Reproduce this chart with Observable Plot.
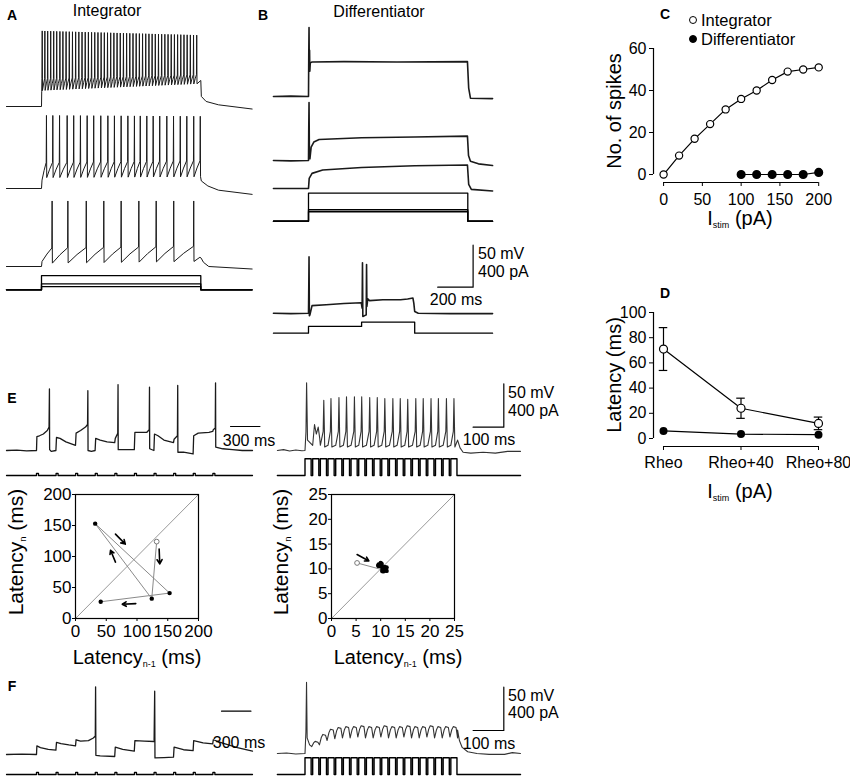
<!DOCTYPE html>
<html><head><meta charset="utf-8">
<script src="https://cdn.jsdelivr.net/npm/d3@7"></script>
<script src="https://cdn.jsdelivr.net/npm/@observablehq/plot@0.6"></script>
<style>
body{margin:0;background:#fff;}
#fig{position:relative;width:850px;height:778px;overflow:hidden;background:#fff;font-family:'Liberation Sans',Arial,Helvetica,sans-serif;color:#000;}
.lab{position:absolute;white-space:nowrap;line-height:1;}
.sub{font-size:0.45em;vertical-align:-0.35em;}
.dotlg{position:absolute;width:6px;height:6px;border:1.3px solid #000;border-radius:50%;transform:translate(-50%,-50%);}
</style></head><body><div id="fig"></div><script>
const fig = document.getElementById('fig');
const FONT = "'Liberation Sans', Arial, Helvetica, sans-serif";

// ================= DATA =================
// Panel A (integrator): spike times, ms from step onset, for three step amplitudes
const aSpikesHigh = [4,19,35,52,69,86,104,121,139,157,175,193,211,229,247,265,283,301,319,337,355,373,391,409,427,445,463,481,499,517,535,553,571,589,607,625,643,661,679,697,715,733,751,769,787,805,823,841,859,877];
const aSpikesMid = [28,64,102,145,182,220,258,295,335,375,412,450,488,525,558,595,631,668,708,746,784,821,860,897];
const aSpikesLow = [60,149,253,352,450,550,648,747,860];
const aStimAmps = [135, 57, 31];          // pA
const aStimDur = 900;                     // ms
const aAfterHigh = [[900,31],[903,12],[930,6],[1000,2],[1190,-3]];
const aAfterMid = [[903,9],[940,3],[1000,-2],[1190,-7]];
const aAfterLow = [[895,11],[902,10],[915,5],[945,0],[1190,-3]];

// Panel B (differentiator): membrane potential keyframes [ms, mV]
const bTraceHigh = [[-198,0],[-100,0.5],[0,0],[1.5,50],[3,82],[4.5,35],[6,55],[7.5,30],[10,40],[20,41],[200,41.5],[500,41],[898,41.5],[905,10],[915,-2],[1040,-2.5]];
const bTraceMid = [[-198,0],[-100,-0.5],[0,0],[1.5,40],[3,69],[5,10],[8,2],[15,16],[30,22],[60,25],[300,27],[600,28],[898,29],[904,6],[915,-1],[960,-4],[1040,-6]];
const bTraceLow = [[-198,0],[0,0],[4,12],[20,18],[80,22],[300,25],[600,27],[898,28],[905,5],[920,-1],[1040,-3]];
const bTraceStep = [[-198,0],[-100,-0.5],[0,0],[1.5,30],[3,67],[5,-3],[8,-2],[20,9],[100,10],[200,11.5],[298,12.5],[303,6],[305,60],[307,-4],[326,-2],[328,58],[330,8],[335,17],[345,15],[420,16],[520,16],[560,17],[590,18],[595,12],[600,2],[620,0],[800,-0.5],[1040,-0.5]];
const bStimAmps = [267, 109, 90];        // pA
const bStepTimes = [0, 300, 600];         // ms
const bStepAmps = [65, 105, 0];           // pA

// Panel C: number of spikes vs stimulus current
const cStim = [0,20,40,60,80,100,120,140,160,180,200];
const cIntegrator = [0,9,17,24,31,36,40,45,49,50,51];
const cDiffStim = [100,120,140,160,180,200];
const cDifferentiator = [0,0,0,0,0,1];

// Panel D: latency (mean ± SEM)
const dLevels = ["Rheo","Rheo+40","Rheo+80"];
const dIntMean = [71, 24, 12];
const dIntErr = [17, 8, 5];
const dDiffMean = [6, 3.5, 3];

// Panel E
const eLeftPulses = [0,200,400,600,800,1000,1200,1400,1600,1800];   // ms
const eLeftLatency = [132,124,32,153,41,27];                          // ms
const eLeftTrace = [[-306,0],[-200,0.5],[-100,-0.5],[0,0],
 [4,16],[30,17],[70,19],[110,23],[128,27],[132,71],[134,1],[150,-1],[198,0],
 [204,15],[240,14],[300,10],[398,6],
 [404,20],[450,23],[500,27],[521,30],[524,69],[526,0],[560,-1],[598,0],
 [604,14],[650,12],[720,10],[798,9],
 [804,14],[829,20],[832,76],[834,1],[900,1],[998,1],
 [1004,21],[1060,21],[1126,21],[1150,24],[1153,73],[1155,2],[1198,0],
 [1204,19],[1240,17],[1300,12],[1398,9],
 [1404,13],[1438,17],[1441,75],[1443,-2],[1500,-2],[1598,-4],
 [1604,17],[1650,20],[1760,21],[1798,22],
 [1804,24],[1824,26],[1827,78],[1829,4],[1900,2],[2000,1],[2100,0],[2204,0]];
const eLeftArrows = [[65,136,81,120],[65,91,57,110],[136,112,137,88],[98,24,76,23]];
const trainPulses = [0,25,50,75,100,125,150,175,200,225,250,275,300,325,350,375,400,425,450,475];
const eRightLatency = [5.2,null,11.2,9.6,10.6,10.2,11.0,9.7,10.8,10.4,10.0,11.2,10.3,9.6,10.9,10.1,10.5,9.5,10.7,10.2];
const eRightPeaks = [78,null,58,60,61,62,62,62,61,61,60,60,60,59,60,60,60,60,60,60];
const eRightPre = [[-90,0],[-70,1],[-50,-0.5],[-30,0.5],[-10,-0.3],[0,0]];
const eRightAfter = [[497,12],[505,3],[515,-2],[540,-3],[580,-2],[620,-3],[660,-1],[702,-1]];
const eRightArrows = [[5.2,12.9,7.6,11.6]];

// Panel F
const fLeftTrace = [[-306,0],[-150,0.5],[0,0],
 [4,10],[40,8],[120,6],[198,5],
 [204,14],[250,12.5],[330,11],[398,10],
 [404,17],[450,15.5],[530,16],[580,19],[598,21],
 [600,22],[603,78],[606,-1],[650,-1.5],[798,-2.3],
 [804,8.5],[880,6],[998,4],
 [1004,16],[1100,15.5],[1198,15],
 [1200,16],[1206,73],[1209,-4],[1300,-3.5],[1398,-3],
 [1404,8.5],[1500,5.5],[1598,4.5],
 [1604,16],[1700,13.5],[1798,12.3],
 [1804,17],[1900,13],[2050,8],[2204,4]];
const fRightTops = [82,14,22,28,30,31,31,32,31,31,32,31,31,32,31,31,32,31,31,31];
const fRightTroughs = [8,10,15,17,18,18,19,18,18,19,18,18,19,18,18,19,18,18,19,18];
const fRightPre = [[-90,0],[-60,0.5],[-30,-0.5],[0,0]];
const fRightAfter = [[497,27],[503,15],[512,7],[530,2],[560,0],[600,-1],[650,-1],[675,1],[702,0]];

// ================= HELPERS =================
function put(svg, left, top) {
  svg.style.position = 'absolute';
  svg.style.left = left + 'px';
  svg.style.top = top + 'px';
  svg.style.overflow = 'visible';
  svg.style.maxWidth = 'none';
  fig.append(svg);
}
function label(html, x, y, {size = 16, anchor = 'middle', bold = false, rotate = 0} = {}) {
  const d = document.createElement('div');
  d.className = 'lab';
  d.innerHTML = html;
  d.style.left = x + 'px';
  d.style.top = y + 'px';
  d.style.fontSize = size + 'px';
  if (bold) d.style.fontWeight = 'bold';
  const tx = anchor === 'middle' ? '-50%' : anchor === 'end' ? '-100%' : '0';
  d.style.transform = `translate(${tx},-50%)` + (rotate ? ` rotate(${rotate}deg)` : '');
  fig.append(d);
}
// a panel in data units (ms, mV or pA) with origin (ox, oy) in page px
function tracePanel({left, right, top, bottom, ox, oy, kx, ky, marks}) {
  const w = right - left, h = bottom - top;
  const svg = Plot.plot({
    width: w, height: h, margin: 0,
    x: {domain: [(left - ox) / kx, (right - ox) / kx], axis: null},
    y: {domain: [(oy - bottom) / ky, (oy - top) / ky], axis: null},
    style: {overflow: 'visible', background: 'transparent'},
    marks
  });
  put(svg, left, top);
}
const lineXY = (pts, o = {}) => Plot.line(pts, {x: d => d[0], y: d => d[1], stroke: '#1a1a1a', strokeWidth: 1.1, ...o});

function spikeTrain(spikes, {onset, start, peak, thr, trough, rise, after}) {
  const pts = [[start, 0], [onset, 0]];
  let lastT = onset, lastV = 0;
  if (rise != null) { pts.push([onset + 3, rise]); lastT = onset + 3; lastV = rise; }
  const n = spikes.length;
  spikes.forEach((ts, i) => {
    const f = n > 1 ? i / (n - 1) : 0;
    const pk = peak[0] + (peak[1] - peak[0]) * f;
    const th = thr[0] + (thr[1] - thr[0]) * f;
    const tr = trough[0] + (trough[1] - trough[0]) * f;
    const mid = lastT + 0.5 * (ts - 1.5 - lastT);
    if (mid > lastT + 0.5) pts.push([mid, lastV + 0.55 * (th - lastV)]);
    pts.push([ts - 1.5, th], [ts, pk], [ts + 1.5, tr]);
    lastT = ts + 1.5; lastV = tr;
  });
  after.forEach(p => pts.push(p));
  return pts;
}
function stepStim(amp, on, off, start, end) {
  return [[start, 0], [on, 0], [on, amp], [off, amp], [off, 0], [end, 0]].map(p => [...p, amp]);
}
function pulseStim(pulses, width, amp, start, end) {
  const pts = [[start, 0]];
  for (const p of pulses) pts.push([p, 0], [p, amp], [p + width, amp], [p + width, 0]);
  pts.push([end, 0]);
  return pts;
}
function scaleBar(t, v, dt, dv) { return lineXY([[t - dt, v], [t, v], [t, v + dv]], {stroke: '#000', strokeWidth: 1.2}); }

// ================= PANEL A =================
const AX = {left: 6, right: 252, ox: 41, kx: 0.177};
const traceA = [
  [spikeTrain(aSpikesHigh, {onset: 0, start: -198, peak: [90, 85], thr: [33, 38], trough: [19, 27], rise: null, after: aAfterHigh}), 106],
  [spikeTrain(aSpikesMid, {onset: 0, start: -198, peak: [87, 86], thr: [31, 33], trough: [13, 14], rise: 10, after: aAfterMid}), 188],
  [spikeTrain(aSpikesLow, {onset: 0, start: -198, peak: [78, 78], thr: [22, 24], trough: [4, 6], rise: 6, after: aAfterLow}), 266]
];
for (const [pts, oy] of traceA) {
  tracePanel({...AX, top: oy - 90, bottom: oy + 10, oy, ky: 0.84, marks: [lineXY(pts, {strokeWidth: 1})]});
}
tracePanel({...AX, top: 260, bottom: 295, oy: 289.3, ky: 0.105, marks: [
  Plot.line(aStimAmps.flatMap(a => stepStim(a, 0, aStimDur, -198, 1190)), {x: d => d[0], y: d => d[1], z: d => d[2], stroke: '#000', strokeWidth: 1.3})
]});

// ================= PANEL B =================
const BX = {left: 273, right: 492, ox: 308, kx: 0.177};
tracePanel({...BX, top: 20, bottom: 105, oy: 96, ky: 0.84, marks: [lineXY(bTraceHigh, {strokeWidth: 1.6})]});
tracePanel({...BX, top: 100, bottom: 170, oy: 160, ky: 0.84, marks: [lineXY(bTraceMid, {strokeWidth: 1.6})]});
tracePanel({...BX, top: 160, bottom: 192, oy: 188, ky: 0.84, marks: [lineXY(bTraceLow, {strokeWidth: 1.6})]});
tracePanel({...BX, top: 190, bottom: 225, oy: 220.7, ky: 0.105, marks: [
  Plot.line(bStimAmps.flatMap(a => stepStim(a, 0, 900, -198, 1040)), {x: d => d[0], y: d => d[1], z: d => d[2], stroke: '#000', strokeWidth: 1.3})
]});
tracePanel({...BX, top: 240, bottom: 320, oy: 312.7, ky: 0.84, marks: [
  lineXY(bTraceStep, {strokeWidth: 1.6}),
  scaleBar(930, 31, 200, 50)
]});
{
  const pts = [[-198, 0]]; let prev = 0;
  bStepTimes.forEach((t, i) => { pts.push([t, prev], [t, bStepAmps[i]]); prev = bStepAmps[i]; });
  pts.push([1040, prev]);
  tracePanel({...BX, top: 315, bottom: 336, oy: 332.7, ky: 0.105, marks: [lineXY(pts, {stroke: '#000', strokeWidth: 1.3})]});
}

// ================= PANEL C =================
{
  const integ = cStim.map((x, i) => ({x, y: cIntegrator[i]}));
  const diff = cDiffStim.map((x, i) => ({x, y: cDifferentiator[i]}));
  const svg = Plot.plot({
    width: 240, height: 170, marginLeft: 53, marginRight: 21.8, marginTop: 8, marginBottom: 28,
    x: {domain: [-13, 200]}, y: {domain: [-3.8, 60]},
    style: {fontFamily: FONT, fontSize: '16px', overflow: 'visible', color: '#000', background: 'transparent'},
    marks: [
      Plot.axisX({ticks: [0, 50, 100, 150, 200], tickSize: 4, tickPadding: 7, label: null}),
      Plot.axisY({ticks: [0, 20, 40, 60], tickSize: 4, tickPadding: 3, label: null}),
      Plot.ruleX([-13], {y1: 0, y2: 60, stroke: '#000', strokeWidth: 1.2}),
      Plot.ruleY([-3.8], {x1: 0, x2: 200, stroke: '#000', strokeWidth: 1.2}),
      Plot.line(integ, {x: 'x', y: 'y', stroke: '#000', strokeWidth: 1.2}),
      Plot.line(diff, {x: 'x', y: 'y', stroke: '#000', strokeWidth: 1.2}),
      Plot.dot(integ, {x: 'x', y: 'y', r: 3.6, fill: '#fff', stroke: '#000', strokeWidth: 1.2}),
      Plot.dot(diff, {x: 'x', y: 'y', r: 3.8, fill: '#000', stroke: '#000'})
    ]
  });
  put(svg, 600, 40);
}

// ================= PANEL D =================
{
  const integ = dLevels.map((l, i) => ({i, m: dIntMean[i], e: dIntErr[i]}));
  const diff = dLevels.map((l, i) => ({i, m: dDiffMean[i]}));
  const caps = integ.flatMap(d => [{i: d.i, y: d.m + d.e}, {i: d.i, y: d.m - d.e}]);
  const svg = Plot.plot({
    width: 240, height: 170, marginLeft: 53, marginRight: 22, marginTop: 22, marginBottom: 14,
    x: {domain: [-0.129, 2]}, y: {domain: [-6.35, 100]},
    style: {fontFamily: FONT, fontSize: '16px', overflow: 'visible', color: '#000', background: 'transparent'},
    marks: [
      Plot.axisX({ticks: [0, 1, 2], tickFormat: i => dLevels[i], tickSize: 4, tickPadding: 6, label: null}),
      Plot.axisY({ticks: [0, 20, 40, 60, 80, 100], tickSize: 4, tickPadding: 3, label: null}),
      Plot.ruleX([-0.129], {y1: 0, y2: 100, stroke: '#000', strokeWidth: 1.2}),
      Plot.ruleY([-6.35], {x1: 0, x2: 2, stroke: '#000', strokeWidth: 1.2}),
      Plot.line(integ, {x: 'i', y: 'm', stroke: '#000', strokeWidth: 1.2}),
      Plot.line(diff, {x: 'i', y: 'm', stroke: '#000', strokeWidth: 1.2}),
      Plot.link(integ, {x1: 'i', x2: 'i', y1: d => d.m - d.e, y2: d => d.m + d.e, stroke: '#000', strokeWidth: 1.2}),
      Plot.ruleY(caps, {y: 'y', x1: d => d.i - 0.055, x2: d => d.i + 0.055, stroke: '#000', strokeWidth: 1.2}),
      Plot.dot(diff, {x: 'i', y: 'm', r: 4, fill: '#000'}),
      Plot.dot(integ, {x: 'i', y: 'm', r: 4, fill: '#fff', stroke: '#000', strokeWidth: 1.2})
    ]
  });
  put(svg, 600, 290);
}

// ================= PANEL E traces =================
const EL = {left: 6, right: 290, ox: 36, kx: 0.098};
tracePanel({...EL, top: 380, bottom: 460, oy: 450, ky: 0.867, marks: [
  lineXY(eLeftTrace, {strokeWidth: 1.3}),
  scaleBar(2280, 27.7, 300, 0)
]});
tracePanel({...EL, top: 465, bottom: 480, oy: 475, ky: 0.108, marks: [lineXY(pulseStim(eLeftPulses, 20, 20, -306, 2204), {stroke: '#000', strokeWidth: 1.3})]});

const ER = {left: 277, right: 520, ox: 304.5, kx: 0.307};
{
  const pts = eRightPre.slice();
  trainPulses.forEach((tk, k) => {
    const L = eRightLatency[k];
    if (k > 0) pts.push([tk, 6]);
    if (L != null) pts.push([tk + L - 2, 22], [tk + L, eRightPeaks[k]], [tk + L + 3, k === 0 ? 12 : 4]);
    else pts.push([tk + 6, 30], [tk + 12, 19], [tk + 18, 27], [tk + 23, 14]);
  });
  eRightAfter.forEach(p => pts.push(p));
  tracePanel({...ER, top: 380, bottom: 460, oy: 450, ky: 0.867, marks: [
    lineXY(pts, {strokeWidth: 1.1, stroke: '#333'}),
    scaleBar(647.6, 26.9, 100, 50)
  ]});
  tracePanel({...ER, top: 455, bottom: 480, oy: 475, ky: 0.108, marks: [lineXY(pulseStim(trainPulses, 20, 155, -90, 702), {stroke: '#000', strokeWidth: 1.4})]});
}

// ================= PANEL E phase plots =================
function phasePlot(lat, max, ticks, arrows, left, top) {
  const sp = lat.filter(v => v != null);
  const pairs = sp.slice(1).map((v, i) => ({prev: sp[i], next: v}));
  const svg = Plot.plot({
    width: 180, height: 170, marginLeft: 35, marginRight: 22, marginTop: 14, marginBottom: 32,
    x: {domain: [0, max]}, y: {domain: [0, max]},
    style: {fontFamily: FONT, fontSize: '17px', overflow: 'visible', color: '#000', background: 'transparent'},
    marks: [
      Plot.line([[0, 0], [max, max]], {x: d => d[0], y: d => d[1], stroke: '#999', strokeWidth: 1}),
      Plot.line(pairs, {x: 'prev', y: 'next', stroke: '#8a8a8a', strokeWidth: 1}),
      Plot.dot(pairs.slice(1), {x: 'prev', y: 'next', r: 2.2, fill: '#000'}),
      Plot.dot(pairs.slice(0, 1), {x: 'prev', y: 'next', r: 2.4, fill: '#fff', stroke: '#777', strokeWidth: 1}),
      Plot.arrow(arrows, {x1: d => d[0], y1: d => d[1], x2: d => d[2], y2: d => d[3], stroke: '#000', strokeWidth: 1.6, headLength: 6}),
      Plot.frame({stroke: '#000', strokeWidth: 1.2}),
      Plot.axisX({ticks, tickSize: 3, tickPadding: 3, label: null}),
      Plot.axisY({ticks, tickSize: 3, tickPadding: 1, label: null})
    ]
  });
  put(svg, left, top);
}
phasePlot(eLeftLatency, 200, [0, 50, 100, 150, 200], eLeftArrows, 40, 480);
phasePlot(eRightLatency, 25, [0, 5, 10, 15, 20, 25], eRightArrows, 296, 480);

// ================= PANEL F =================
tracePanel({...EL, top: 680, bottom: 764, oy: 754, ky: 0.867, marks: [
  lineXY(fLeftTrace, {strokeWidth: 1.3}),
  scaleBar(2188, 50, 300, 0)
]});
tracePanel({...EL, top: 765, bottom: 778, oy: 774, ky: 0.108, marks: [lineXY(pulseStim(eLeftPulses, 20, 20, -306, 2204), {stroke: '#000', strokeWidth: 1.3})]});
{
  const pts = fRightPre.slice();
  fRightTops.forEach((top, k) => {
    const tk = trainPulses[k];
    const prev = k ? fRightTroughs[k - 1] : 0;
    if (top > 50) pts.push([tk + 3, 25], [tk + 5, top], [tk + 7, 18], [tk + 15, 10], [tk + 22, fRightTroughs[k]]);
    else pts.push([tk + 3, prev + 0.7 * (top - prev)], [tk + 8, top], [tk + 17, top - 1], [tk + 22, fRightTroughs[k]]);
  });
  fRightAfter.forEach(p => pts.push(p));
  tracePanel({...ER, top: 680, bottom: 762, oy: 753, ky: 0.867, marks: [
    lineXY(pts, {strokeWidth: 1.1, stroke: '#333'}),
    scaleBar(647.6, 26.5, 100, 50)
  ]});
  tracePanel({...ER, top: 755, bottom: 778, oy: 774, ky: 0.108, marks: [lineXY(pulseStim(trainPulses, 20, 155, -90, 702), {stroke: '#000', strokeWidth: 1.4})]});
}

// ================= TEXT =================
label('A', 12, 15, {size: 14, bold: true});
label('B', 263, 15, {size: 14, bold: true});
label('C', 665, 14, {size: 14, bold: true});
label('D', 665, 293, {size: 14, bold: true});
label('E', 12, 398, {size: 14, bold: true});
label('F', 12, 686, {size: 14, bold: true});
label('Integrator', 107, 11, {size: 16});
label('Differentiator', 379, 12, {size: 16});

label('50 mV', 478, 254, {size: 16, anchor: 'start'});
label('400 pA', 478, 272, {size: 16, anchor: 'start'});
label('200 ms', 456, 300, {size: 16});

// legend C
for (const [y, fill, txt] of [[20, '#fff', 'Integrator'], [39, '#000', 'Differentiator']]) {
  const d = document.createElement('div'); d.className = 'dotlg';
  d.style.left = '693px'; d.style.top = y + 'px'; d.style.background = fill;
  fig.append(d);
  label(txt, 701, y, {size: 16.5, anchor: 'start'});
}
label('No. of spikes', 614, 111, {size: 20, rotate: -90});
label('I<span class="sub" style="font-size:9px;vertical-align:-3px">stim</span> (pA)', 740, 219, {size: 20});
label('Latency (ms)', 614, 375, {size: 20, rotate: -90});
label('I<span class="sub" style="font-size:9px;vertical-align:-3px">stim</span> (pA)', 740, 492, {size: 20});

label('300 ms', 249, 441, {size: 16});
label('50 mV', 508, 393, {size: 16, anchor: 'start'});
label('400 pA', 508, 411, {size: 16, anchor: 'start'});
label('100 ms', 489, 440, {size: 16});
label('Latency<span class="sub">n</span> (ms)', 16, 552, {size: 21, rotate: -90});
label('Latency<span class="sub">n</span> (ms)', 281, 552, {size: 21, rotate: -90});
label('Latency<span class="sub">n-1</span> (ms)', 137, 658, {size: 20});
label('Latency<span class="sub">n-1</span> (ms)', 398, 658, {size: 20});

label('300 ms', 239, 743, {size: 16});
label('50 mV', 508, 696, {size: 16, anchor: 'start'});
label('400 pA', 508, 713, {size: 16, anchor: 'start'});
label('100 ms', 489, 744, {size: 16});
</script></body></html>
